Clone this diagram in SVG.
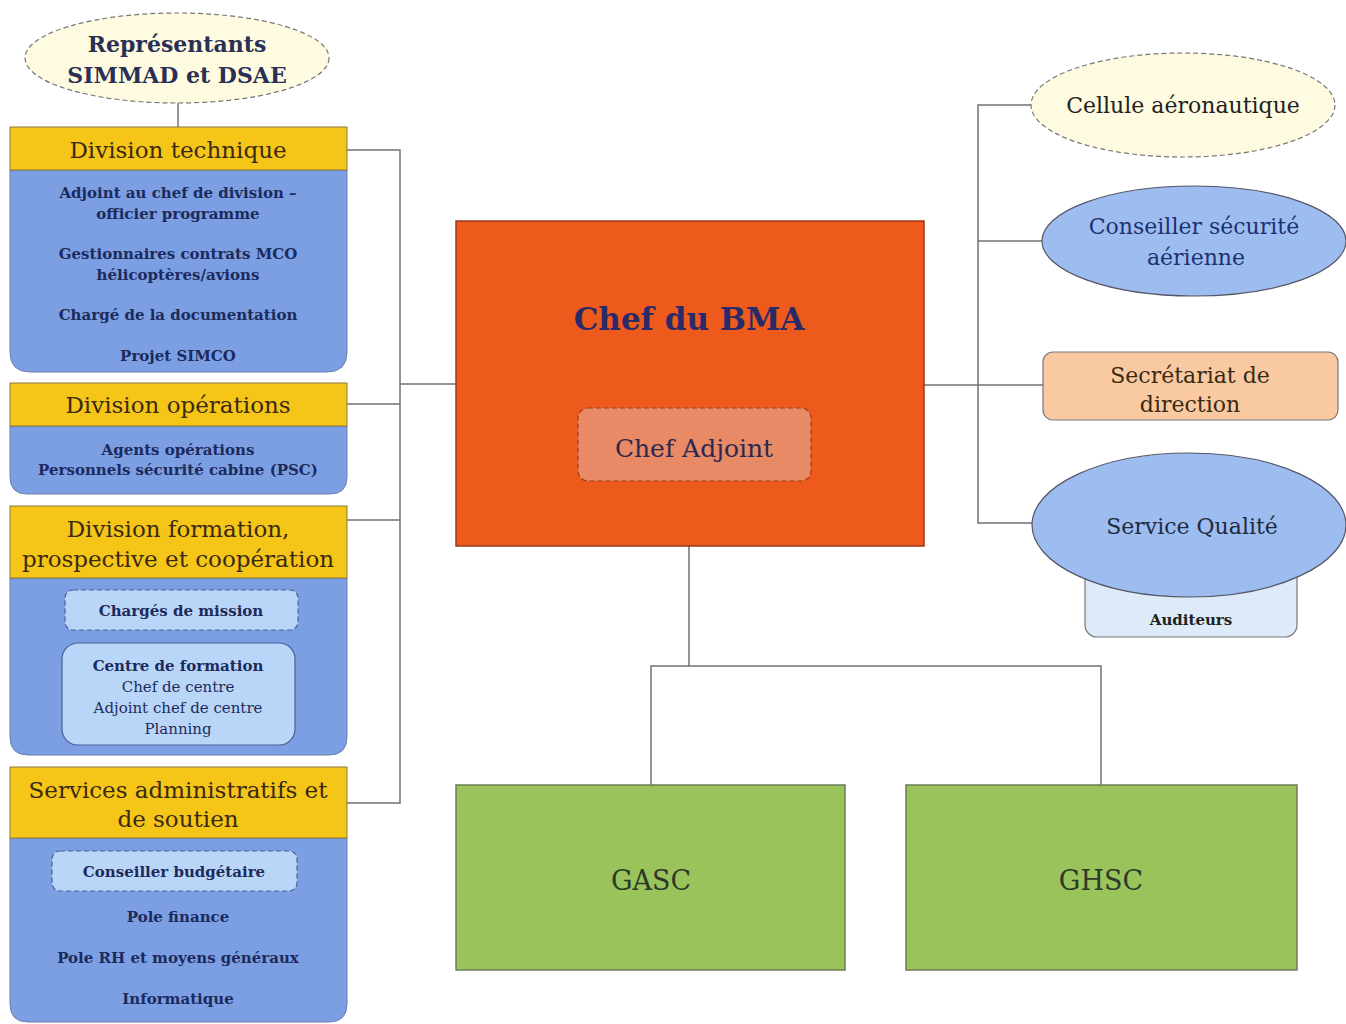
<svg xmlns="http://www.w3.org/2000/svg" width="1346" height="1024" viewBox="0 0 1346 1024">
<style>
text{font-family:"DejaVu Serif","Liberation Serif",serif;text-anchor:middle}
.hdr{fill:#F5C518;stroke:#8a7a40;stroke-width:1}
.body{fill:#7B9FE2;stroke:#6a7fb0;stroke-width:1}
.ht{font-size:23px;fill:#3a2a12}
.bt{font-size:15px;font-weight:bold;fill:#1d2a5c}
.sub{fill:#B9D6F8;stroke:#4a5f95;stroke-width:1.2}
.dash{stroke-dasharray:5 3}
.conn{fill:none;stroke:#707070;stroke-width:1.5}
.green{fill:#9BC35B;stroke:#6b7d55;stroke-width:1.5}
.gt{font-size:27px;fill:#2d3a2a}
</style>
<rect width="1346" height="1024" fill="#ffffff"/>
<g id="connectors" class="conn">
<path d="M178,103 V127"/>
<path d="M347,150 H400 V803 H347"/>
<path d="M347,404 H400"/>
<path d="M347,520 H400"/>
<path d="M400,384 H456"/>
<path d="M924,385 H1043"/>
<path d="M1032,105 H978 V523 H1033"/>
<path d="M978,241 H1043"/>
<path d="M689,546 V666"/>
<path d="M651,785 V666 H1101 V785"/>
</g>
<g id="representants">
<ellipse cx="177" cy="58" rx="152" ry="45" fill="#FFFBE0" stroke="#777" stroke-width="1.2" class="dash"/>
<text x="177" y="52" style="font-size:22px;font-weight:bold;fill:#2a2f55">Représentants</text>
<text x="177" y="83" style="font-size:22px;font-weight:bold;fill:#2a2f55">SIMMAD et DSAE</text>
</g>
<g id="div-technique">
<path class="body" d="M10,170 H347 V352 Q347,372 327,372 H30 Q10,372 10,352 Z"/>
<rect class="hdr" x="10" y="127" width="337" height="43"/>
<text class="ht" x="178" y="158">Division technique</text>
<text class="bt" x="178" y="198">Adjoint au chef de division –</text>
<text class="bt" x="178" y="219">officier programme</text>
<text class="bt" x="178" y="259">Gestionnaires contrats MCO</text>
<text class="bt" x="178" y="280">hélicoptères/avions</text>
<text class="bt" x="178" y="320">Chargé de la documentation</text>
<text class="bt" x="178" y="361">Projet SIMCO</text>
</g>
<g id="div-operations">
<path class="body" d="M10,426 H347 V477 Q347,494 330,494 H27 Q10,494 10,477 Z"/>
<rect class="hdr" x="10" y="383" width="337" height="43"/>
<text class="ht" x="178" y="413">Division opérations</text>
<text class="bt" x="178" y="455">Agents opérations</text>
<text class="bt" x="178" y="475">Personnels sécurité cabine (PSC)</text>
</g>
<g id="div-formation">
<path class="body" d="M10,578 H347 V737 Q347,755 329,755 H28 Q10,755 10,737 Z"/>
<rect class="hdr" x="10" y="506" width="337" height="72"/>
<text class="ht" x="178" y="537">Division formation,</text>
<text class="ht" x="178" y="567">prospective et coopération</text>
<rect class="sub dash" x="65" y="590" width="233" height="40" rx="8"/>
<text class="bt" x="181" y="616">Chargés de mission</text>
<rect class="sub" x="62" y="643" width="233" height="102" rx="16"/>
<text class="bt" x="178" y="671">Centre de formation</text>
<text x="178" y="692" style="font-size:15px;fill:#1d2a5c">Chef de centre</text>
<text x="178" y="713" style="font-size:15px;fill:#1d2a5c">Adjoint chef de centre</text>
<text x="178" y="734" style="font-size:15px;fill:#1d2a5c">Planning</text>
</g>
<g id="services-admin">
<path class="body" d="M10,838 H347 V1004 Q347,1022 329,1022 H28 Q10,1022 10,1004 Z"/>
<rect class="hdr" x="10" y="767" width="337" height="71"/>
<text class="ht" x="178" y="798">Services administratifs et</text>
<text class="ht" x="178" y="827">de soutien</text>
<rect class="sub dash" x="52" y="851" width="245" height="40" rx="8"/>
<text class="bt" x="174" y="877">Conseiller budgétaire</text>
<text class="bt" x="178" y="922">Pole finance</text>
<text class="bt" x="178" y="963">Pole RH et moyens généraux</text>
<text class="bt" x="178" y="1004">Informatique</text>
</g>
<g id="chef-bma">
<rect x="456" y="221" width="468" height="325" fill="#EE5A1C" stroke="#9a3a18" stroke-width="1.5"/>
<text x="689" y="330" style="font-size:31px;font-weight:bold;fill:#2a2a68">Chef du BMA</text>
<rect x="578" y="408" width="233" height="73" rx="10" fill="#E88A66" stroke="#9a3a18" stroke-width="1.2" class="dash"/>
<text x="694" y="457" style="font-size:25px;fill:#2e2750">Chef Adjoint</text>
</g>
<g id="cellule">
<ellipse cx="1183" cy="105" rx="152" ry="52" fill="#FFFBE0" stroke="#777" stroke-width="1.2" class="dash"/>
<text x="1183" y="113" style="font-size:22px;fill:#222">Cellule aéronautique</text>
</g>
<g id="conseiller">
<ellipse cx="1194" cy="241" rx="152" ry="55" fill="#9DBDF0" stroke="#556" stroke-width="1.2"/>
<text x="1194" y="234" style="font-size:22px;fill:#1d3070">Conseiller sécurité</text>
<text x="1196" y="265" style="font-size:22px;fill:#1d3070">aérienne</text>
</g>
<g id="secretariat">
<rect x="1043" y="352" width="295" height="68" rx="10" fill="#F9C9A2" stroke="#777" stroke-width="1.2"/>
<text x="1190" y="383" style="font-size:22px;fill:#3a2a12">Secrétariat de</text>
<text x="1190" y="412" style="font-size:22px;fill:#3a2a12">direction</text>
</g>
<g id="service-qualite">
<rect x="1085" y="560" width="212" height="77" rx="12" fill="#DDEBF8" stroke="#777" stroke-width="1.2"/>
<ellipse cx="1189" cy="525" rx="157" ry="72" fill="#9DBDF0" stroke="#556" stroke-width="1.2"/>
<text x="1192" y="534" style="font-size:22px;fill:#222a40">Service Qualité</text>
<text x="1191" y="625" style="font-size:15px;font-weight:bold;fill:#222">Auditeurs</text>
</g>
<g id="gasc">
<rect class="green" x="456" y="785" width="389" height="185"/>
<text class="gt" x="651" y="890">GASC</text>
</g>
<g id="ghsc">
<rect class="green" x="906" y="785" width="391" height="185"/>
<text class="gt" x="1101" y="890">GHSC</text>
</g>
</svg>
